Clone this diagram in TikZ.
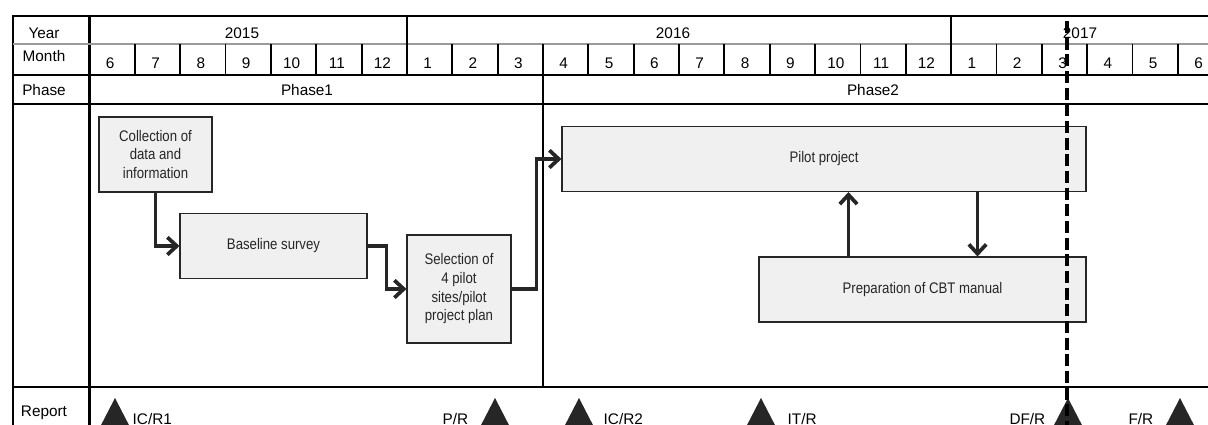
\documentclass[tikz,border=0pt]{standalone}
\usepackage{fontspec}
\setmainfont{Liberation Sans}
\newfontfamily\narrowfont[FakeStretch=0.86]{Liberation Sans}
\usetikzlibrary{arrows.meta, calc}
\definecolor{boxfill}{HTML}{F0F0F0}
\definecolor{inkgray}{HTML}{262626}
\definecolor{rulegray}{HTML}{9A9A9A}

\begin{document}
\begin{tikzpicture}[x=0.75pt, y=-0.75pt,
    font=\fontsize{11.5}{14}\selectfont,
    frame/.style={line width=2pt},
    rule/.style={line width=1.4pt},
    thinrule/.style={line width=1pt},
    task/.style={draw=inkgray, line width=0.8pt, fill=boxfill, text=inkgray,
        align=center, inner sep=0pt, font=\narrowfont\fontsize{11.5}{14}\selectfont},
    flow/.style={draw=inkgray, line width=2.8pt, -{Straight Barb[length=7pt,width=13pt]}},
    cutoff/.style={line width=3pt, dash pattern=on 9pt off 3.5pt},
    marker/.style={fill=inkgray}]
    \useasboundingbox (0,0) rectangle (1208,425);

    % table frame and rows
    \draw[frame] (1230,16) -- (13,16) -- (13,440);
    \draw[frame] (89.5,16) -- (89.5,440);
    \draw[thinrule, rulegray] (13,44) -- (1230,44);
    \draw[rule] (13,75) -- (1230,75);
    \draw[rule] (13,104) -- (1230,104);
    \draw[rule] (13,387) -- (1230,387);

    % month cells
    \foreach \m [count=\i from 0] in {6,7,8,9,10,11,12,1,2,3,4,5,6,7,8,9,10,11,12,1,2,3,4,5,6}
        \node (m\i) at ({89.5+(\i+0.5)*45.35-2}, 63) {\m};
    \foreach \i in {1,...,24}
        \draw[rule] ({89.5+\i*45.35},44) -- ({89.5+\i*45.35},75);
    \foreach \i in {7,19}
        \draw[thinrule] ({89.5+\i*45.35},16) -- ({89.5+\i*45.35},44);
    \draw[thinrule] (543,75) -- (543,387);

    % header labels
    \node (year) at (44,33) {Year};
    \node (month) at (44,56) {Month};
    \node (phase) at (44,90) {Phase};
    \node (report) at (44,413) {Report};
    \node (y2015) at (242,33) {2015};
    \node (y2016) at (673,33) {2016};
    \node (y2017) at (1080,33) {2017};
    \node (ph1) at (307,90) {Phase1};
    \node (ph2) at (873,90) {Phase2};

    % activities
    \node[task, minimum width=84.75pt, minimum height=56.25pt] (collect) at (155.5,154.5) {Collection of\\data and\\information};
    \node[task, minimum width=140.25pt, minimum height=48.75pt] (baseline) at (273.5,246) {Baseline survey};
    \node[task, minimum width=78pt, minimum height=81pt] (select) at (459,289) {Selection of\\4 pilot\\sites/pilot\\project plan};
    \node[task, minimum width=393pt, minimum height=48.75pt] (pilot) at (824,159) {Pilot project};
    \node[task, minimum width=245.25pt, minimum height=48.75pt] (manual) at (922.5,289.5) {Preparation of CBT manual};

    \draw[flow] (collect) |- (baseline);
    \draw[flow] (baseline.east) -- ++(19,0) |- (select);
    \draw[flow] (select.east) -- ++(25,0) |- (pilot);
    \coordinate (up) at ($(manual.north west)+(90,0)$);
    \draw[flow] (up) -- (up |- pilot.south);
    \coordinate (down) at ($(pilot.south east)+(-109,0)$);
    \draw[flow] (down) -- (down |- manual.north);

    % reports
    \foreach \x in {115,495,579,761,1068,1180}
        \fill[marker] (\x,398) -- ++(16,31) -- ++(-32,0) -- cycle;
    \node[anchor=base west] (icr1) at (128,424) {IC/R1};
    \node[anchor=base east] (pr) at (473,424) {P/R};
    \node[anchor=base west] (icr2) at (599,424) {IC/R2};
    \node[anchor=base west] (itr) at (783,424) {IT/R};
    \node[anchor=base east] (dfr) at (1050,424) {DF/R};
    \node[anchor=base east] (fr) at (1158,424) {F/R};

    % cut-off line
    \draw[cutoff] (1067,21) -- (1067,440);
\end{tikzpicture}
\end{document}
